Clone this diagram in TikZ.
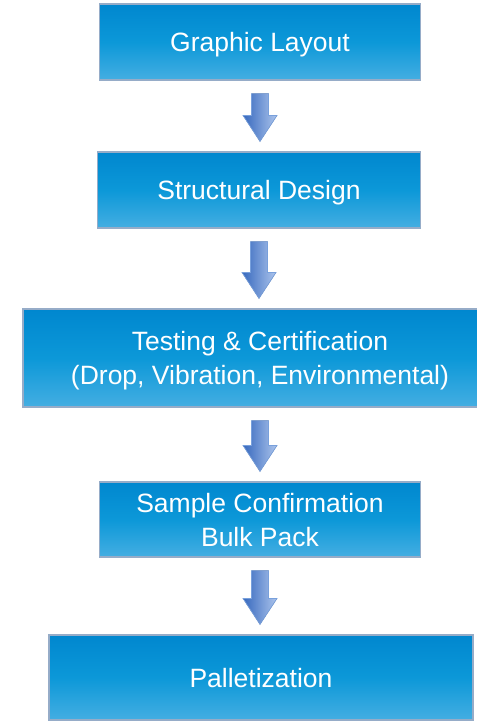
\documentclass[tikz,border=0pt]{standalone}
\usepackage{fontspec}
\setmainfont{Liberation Sans}
\usetikzlibrary{calc}
\definecolor{boxtop}{RGB}{0,135,207}
\definecolor{boxmid}{RGB}{12,152,216}
\definecolor{boxbot}{RGB}{68,174,226}
\definecolor{boxedge}{RGB}{150,172,200}
\definecolor{arrleft}{RGB}{55,105,190}
\definecolor{arrright}{RGB}{172,196,236}
\definecolor{arredge}{RGB}{120,160,220}
\tikzset{
  stepbox/.style={rectangle, draw=boxedge, line width=1.2pt,
    top color=boxtop, bottom color=boxbot, middle color=boxmid,
    text=white, align=center, inner sep=0pt, text depth=0pt,
    font=\fontsize{26.5}{34}\selectfont},
  arrowfill/.style={left color=arrleft, right color=arrright, draw=arredge, line width=0.7pt, line join=miter}
}
\newcommand\blockarrow[2]{%
  \coordinate (s) at ([yshift=-13pt]#1.south);
  \coordinate (e0) at (s |- #2.north);
  \coordinate (e) at ([yshift=10pt]e0);
  \filldraw[arrowfill] ([xshift=-8.5pt]s) -- ([xshift=8.5pt]s)
    -- ([xshift=8.5pt,yshift=26pt]e) -- ([xshift=17pt,yshift=26pt]e)
    -- (e) -- ([xshift=-17pt,yshift=26pt]e)
    -- ([xshift=-8.5pt,yshift=26pt]e) -- cycle;
}
\begin{document}
\begin{tikzpicture}[x=1pt,y=-1pt]
\useasboundingbox (0,0) rectangle (477,721);
\clip (0,0) rectangle (477,721);
\fill[white] (0,0) rectangle (477,721);
\node[stepbox, minimum width=321pt, minimum height=76pt] (b1) at (260,42) {Graphic Layout};
\node[stepbox, minimum width=323pt, minimum height=76pt] (b2) at (259,190) {Structural Design};
\node[stepbox, minimum width=474pt, minimum height=98pt] (b3) at (260,358) {Testing \& Certification\\(Drop, Vibration, Environmental)};
\node[stepbox, minimum width=321pt, minimum height=75pt] (b4) at (260,519.5) {Sample Confirmation\\Bulk Pack};
\node[stepbox, minimum width=424pt, minimum height=85pt] (b5) at (261,677.5) {Palletization};
\blockarrow{b1}{b2}
\blockarrow{b2}{b3}
\blockarrow{b3}{b4}
\blockarrow{b4}{b5}
\end{tikzpicture}
\end{document}
